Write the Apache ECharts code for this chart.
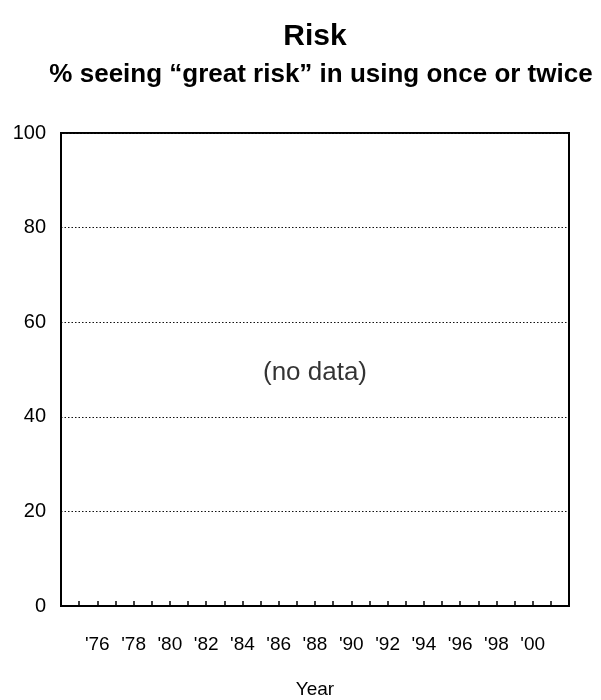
<!DOCTYPE html>
<html>
<head>
<meta charset="utf-8">
<script src="https://cdn.jsdelivr.net/npm/echarts@6/dist/echarts.min.js"></script>
<style>
html,body{margin:0;padding:0;background:#fff;}
#chart{width:601px;height:700px;}
</style>
</head>
<body>
<div id="chart"></div>
<script>
var titleText = 'Risk';
var subtitleText = '% seeing \u201Cgreat risk\u201D in using once or twice';
var yearMin = 1974;
var yearMax = 2002;
var labeledYears = [1976, 1978, 1980, 1982, 1984, 1986, 1988, 1990, 1992, 1994, 1996, 1998, 2000];
var yTicks = [0, 20, 40, 60, 80, 100];
var seriesValues = []; // no data
var noDataNote = [[1988, 50, '(no data)']];

var chart = echarts.init(document.getElementById('chart'));
var FONT = 'Liberation Sans, Arial, sans-serif';
chart.setOption({
  backgroundColor: '#fff',
  animation: false,
  title: [{
    text: titleText,
    left: 310, top: 17, textAlign: 'center',
    textStyle: {fontFamily: FONT, fontWeight: 'bold', fontSize: 30, color: '#000'}
  }, {
    text: subtitleText,
    left: 316, top: 57, textAlign: 'center',
    textStyle: {fontFamily: FONT, fontWeight: 'bold', fontSize: 26, color: '#000'}
  }],
  grid: {left: 61, right: 32, top: 133, bottom: 94, show: true, borderColor: '#000', borderWidth: 2,
         containLabel: false, outerBoundsMode: 'none'},
  xAxis: {
    type: 'value', min: yearMin, max: yearMax, interval: 1,
    name: 'Year', nameLocation: 'middle', nameGap: 74,
    nameTextStyle: {fontFamily: FONT, fontSize: 19, color: '#000'},
    axisLine: {show: true, lineStyle: {color: '#000', width: 2}},
    axisTick: {show: true, inside: true, length: 5, lineStyle: {color: '#000', width: 1.5}},
    splitLine: {show: false},
    axisLabel: {
      margin: 29, fontFamily: FONT, fontSize: 19, color: '#000',
      formatter: function (v) {
        return labeledYears.indexOf(v) >= 0 ? "'" + String(v).slice(2) : '';
      }
    }
  },
  yAxis: {
    type: 'value', min: yTicks[0], max: yTicks[yTicks.length - 1], interval: 20,
    axisLine: {show: true, lineStyle: {color: '#000', width: 2}},
    axisTick: {show: false},
    splitLine: {show: true, lineStyle: {color: '#111', type: [1.5, 2], width: 1.2}},
    axisLabel: {margin: 15, fontFamily: FONT, fontSize: 20, color: '#000'}
  },
  series: [{
    type: 'line', data: seriesValues, showSymbol: false
  }, {
    type: 'scatter', symbolSize: 0, silent: true,
    data: noDataNote,
    label: {
      show: true, position: 'inside', offset: [0, 3],
      formatter: function (p) { return p.data[2]; },
      fontFamily: FONT, fontSize: 26, color: '#000'
    }
  }]
});
</script>
</body>
</html>
